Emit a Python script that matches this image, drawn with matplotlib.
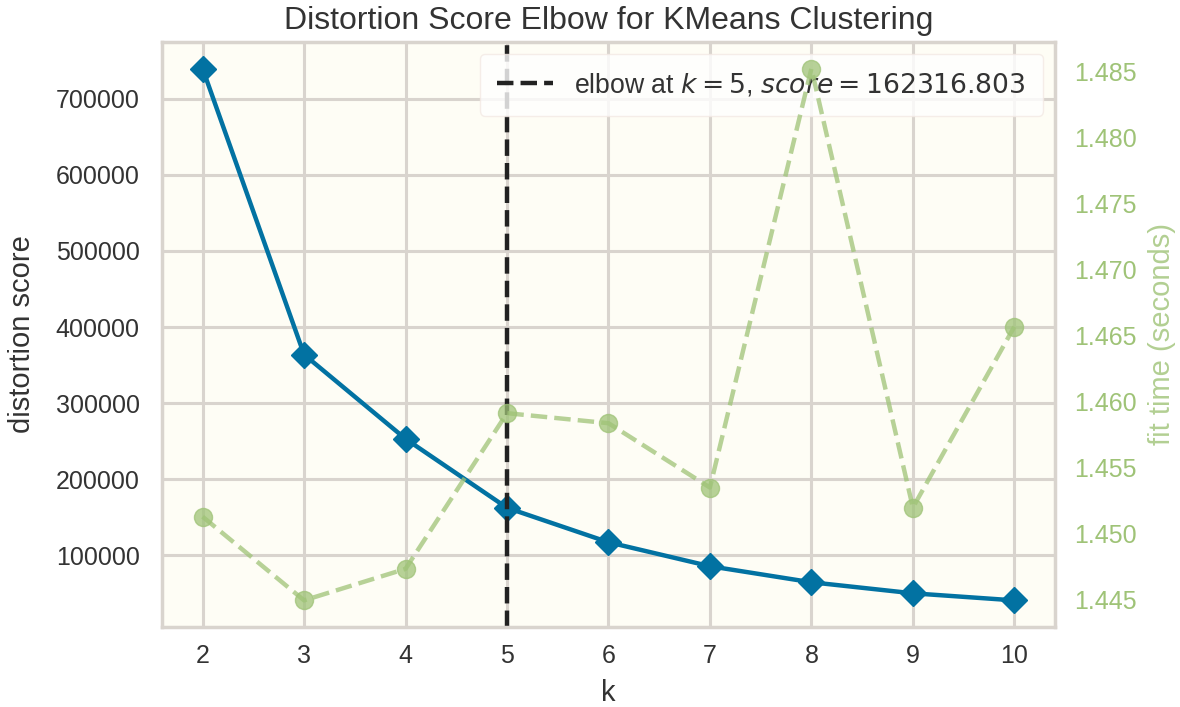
import matplotlib
matplotlib.use("Agg")
import matplotlib.pyplot as plt

# elbow search results
k_values = [2, 3, 4, 5, 6, 7, 8, 9, 10]
distortion = [739800, 363800, 253000, 162316.803, 117000, 85500, 64400, 49900, 40600]
fit_times = [1.45125, 1.4449, 1.44729, 1.4591, 1.45834, 1.45346, 1.48524, 1.45194, 1.46566]
elbow_k = 5
elbow_score = 162316.803

BLUE = "#0272a2"
GREEN = "#9fc377"
GRID = "#d9d4ce"

plt.rcParams["font.family"] = ["Liberation Sans", "DejaVu Sans"]
plt.rcParams["mathtext.fontset"] = "dejavusans"

fig = plt.figure(figsize=(11.8, 7.07), dpi=100)
ax = fig.add_axes([0.1373, 0.1132, 0.7567, 0.8274])
ax.set_facecolor("#fefdf5")
for sp in ax.spines.values():
    sp.set_color(GRID)
    sp.set_linewidth(2.5)
ax.grid(True, color=GRID, linewidth=2.2)
ax.set_axisbelow(True)

ax.plot(k_values, distortion, color=BLUE, marker="D", markersize=13.5, linewidth=3.2)
ax.axvline(elbow_k, color="#222222", linestyle="--", linewidth=3.2,
           label="elbow at $k=%d$, $score=%0.3f$" % (elbow_k, elbow_score))

ax.tick_params(axis="both", length=0, labelsize=18, colors="#333333")
ax.tick_params(axis="y", pad=16)
ax.tick_params(axis="x", pad=12)
ax.set_xlabel("k", fontsize=21, color="#333333", labelpad=8)
ax.set_ylabel("distortion score", fontsize=21, color="#333333", labelpad=14)
ax.set_title("Distortion Score Elbow for KMeans Clustering", fontsize=23,
             color="#333333", pad=9)

ax2 = ax.twinx()
ax2.plot(k_values, fit_times, color=GREEN, marker="o", linestyle="--",
         markersize=13, linewidth=3.2, alpha=0.75)
ax2.grid(False)
for sp in ax2.spines.values():
    sp.set_visible(False)
ax2.tick_params(axis="y", length=0, labelsize=18, colors=GREEN, pad=14)
ax2.set_ylabel("fit time (seconds)", fontsize=21, color=GREEN, alpha=0.8, labelpad=8)
ax2.set_yticks([1.445, 1.450, 1.455, 1.460, 1.465, 1.470, 1.475, 1.480, 1.485])
ax2.set_yticklabels(["%.3f" % t for t in ax2.get_yticks()])

leg = ax.legend(loc="upper right", fontsize=19.2, frameon=True, fancybox=True,
                handlelength=2.1, handletextpad=0.8, borderpad=0.65,
                borderaxespad=0.45)
leg.get_frame().set_facecolor("white")
leg.get_frame().set_edgecolor("#f3e9e4")
leg.get_frame().set_alpha(0.8)
for t in leg.get_texts():
    t.set_color("#333333")

fig.savefig("out.png", dpi=100)
